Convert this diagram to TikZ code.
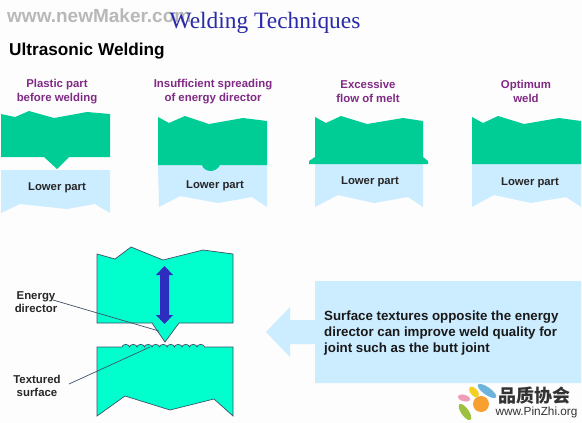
\documentclass[tikz,border=0pt]{standalone}
\usepackage{fontspec}
\setmainfont{Liberation Sans}
\newfontfamily\titlefont{Liberation Serif}
\newfontfamily\cjkfont{Noto Sans CJK SC}
\definecolor{bgc}{HTML}{FCFDFC}
\definecolor{partgreen}{HTML}{00CC96}
\definecolor{biggreen}{HTML}{00FFCC}
\definecolor{lowblue}{HTML}{CCECFF}
\definecolor{purp}{HTML}{802A86}
\definecolor{navy}{HTML}{2A2AA8}
\definecolor{arrowblue}{HTML}{2E2EBE}
\definecolor{edgec}{HTML}{40506A}
\definecolor{logoorange}{HTML}{F7A030}
\definecolor{logoyellow}{HTML}{F5D020}
\definecolor{logoblue}{HTML}{6CB4DC}
\definecolor{logopink}{HTML}{EE9CB8}
\definecolor{logogreen}{HTML}{9CC040}
\tikzset{
  x=1pt,y=-1pt,
  upperpart/.style={fill=partgreen,draw=none},
  lowerpart/.style={fill=lowblue,draw=none},
  bigpart/.style={fill=biggreen,draw=edgec,line width=0.7pt,line join=miter},
  caption/.style={text=purp,font=\fontsize{11.4}{13.5}\selectfont\bfseries,align=center,inner sep=0pt},
  lowerlabel/.style={text=black!85,font=\fontsize{11.3}{13}\selectfont\bfseries,inner sep=0pt},
  sidelabel/.style={text=black!85,font=\fontsize{11.4}{13.5}\selectfont\bfseries,align=center,inner sep=0pt},
  leader/.style={draw=edgec,line width=0.7pt},
}
\begin{document}
\begin{tikzpicture}
\useasboundingbox (0,0) rectangle (582,423);
\fill[bgc] (0,0) rectangle (582,423);
% watermark
\node[anchor=west,inner sep=0pt,text=black!28,font=\fontsize{19}{19}\selectfont\bfseries] (wm) at (7,16) {www.newMaker.com};
% titles
\node[anchor=center,inner sep=0pt,text=navy,font=\titlefont\fontsize{23.4}{24}\selectfont] (title) at (265,22.5) {Welding Techniques};
\node[anchor=west,inner sep=0pt,text=black,font=\fontsize{17.2}{17}\selectfont\bfseries] (sub) at (9,51.5) {Ultrasonic Welding};
% captions
\node[caption] (c1) at (57,91.5) {Plastic part\\before welding};
\node[caption] (c2) at (213,91.5) {Insufficient spreading\\of energy director};
\node[caption] (c3) at (368,91.5) {Excessive\\flow of melt};
\node[caption] (c4) at (526,91.5) {Optimum\\weld};
% panel 1
\fill[lowerpart] (1,170) -- (110,170) -- (110,213) -- (95,204) -- (67,209) -- (20,204) -- (1,213) -- cycle;
\fill[upperpart] (1,114) -- (15,117) -- (29,111) -- (54,118) -- (87,112) -- (110,114) -- (110,157) -- (69,157) -- (57,169) -- (44,157) -- (1,157) -- cycle;
\node[lowerlabel] (l1) at (57,187.5) {Lower part};
% panel 2
\fill[lowerpart] (158,165) -- (267,165) -- (267,207) -- (252,197) -- (218,203) -- (180,196) -- (159,207) -- cycle;
\fill[upperpart] (158,117) -- (169,123) -- (185,116) -- (209,124) -- (243,118) -- (267,121) -- (267,165) -- (220,165) .. controls (218,169) and (214,171) .. (211,171) .. controls (207,171) and (203,169) .. (202,165) -- (158,165) -- cycle;
\node[lowerlabel] (l2) at (215,185.5) {Lower part};
% panel 3
\fill[lowerpart] (315,164) -- (423,164) -- (423,207) -- (408,197) -- (374,203) -- (338,195) -- (315,207) -- cycle;
\fill[upperpart] (315,117) -- (326,123) -- (341,116) -- (367,124) -- (403,118) -- (423,121) -- (423,157) -- (428,161) -- (428,164) -- (309,164) -- (309,161) -- (315,157) -- cycle;
\node[lowerlabel] (l3) at (370,181.5) {Lower part};
% panel 4
\fill[lowerpart] (472,164) -- (581,164) -- (581,207) -- (566,197) -- (531,203) -- (494,195) -- (472,207) -- cycle;
\fill[upperpart] (472,117) -- (483,123) -- (498,116) -- (524,124) -- (559,118) -- (581,121) -- (581,164) -- (472,164) -- cycle;
\node[lowerlabel] (l4) at (530,182.5) {Lower part};
% large figure
\draw[bigpart] (97,254) -- (115,259) -- (131,247) -- (163,260) -- (203,250) -- (233,254) -- (233,323) -- (179,323) -- (165,342) -- (152,323) -- (97,323) -- cycle;
\draw[bigpart] (97,347) -- (122,347)
  \foreach \k in {1,...,11} { arc[start angle=180,end angle=360,x radius=3.75,y radius=2.6] }
  -- (233,347) -- (233,416) -- (214,399) -- (170,410) -- (125,396) -- (97,416) -- cycle;
\fill[arrowblue] (164.5,266) -- (173,275) -- (169,275) -- (169,315) -- (173,315) -- (164.5,324) -- (156,315) -- (160,315) -- (160,275) -- (156,275) -- cycle;
% labels and leaders
\node[sidelabel] (energy) at (36,302) {Energy\\director};
\node[sidelabel] (textured) at (37,386) {Textured\\surface};
\coordinate (edtip) at (159,331);
\coordinate (tstip) at (150,347);
\coordinate (edstart) at (53,300);
\coordinate (tsstart) at (69,384);
\draw[leader] (edstart) -- (edtip);
\draw[leader] (tsstart) -- (tstip);
% callout
\fill[lowblue] (315,281) -- (581,281) -- (581,383) -- (315,383) -- (315,344) -- (290,344) -- (290,357) -- (266,332) -- (290,307) -- (290,320) -- (315,320) -- cycle;
\node[anchor=west,inner sep=0pt,text=black!90,align=left,font=\fontsize{13.3}{16}\selectfont\bfseries] (note) at (324,333) {Surface textures opposite the energy\\director can improve weld quality for\\joint such as the butt joint};
% logo
\fill[logoorange] (481,404) circle (8);
\fill[logoyellow,rotate around={-50:(474,392)}] (474,392) ellipse (6.5 and 3.5);
\fill[logoblue,rotate around={-35:(487,391)}] (487,391) ellipse (11 and 3.8);
\fill[logopink,rotate around={-15:(464,398)}] (464,398) ellipse (6.5 and 3.2);
\fill[logogreen,rotate around={-55:(465,412)}] (465,412) ellipse (9.5 and 3.8);
\node[anchor=center,inner sep=0pt,text=black!80,font=\cjkfont\fontsize{18}{18}\selectfont\bfseries] (lg1) at (534.5,396) {品质协会};
\node[anchor=center,inner sep=0pt,text=black!80,font=\fontsize{11.8}{12}\selectfont] (lg2) at (536.5,412) {www.PinZhi.org};
\end{tikzpicture}
\end{document}
